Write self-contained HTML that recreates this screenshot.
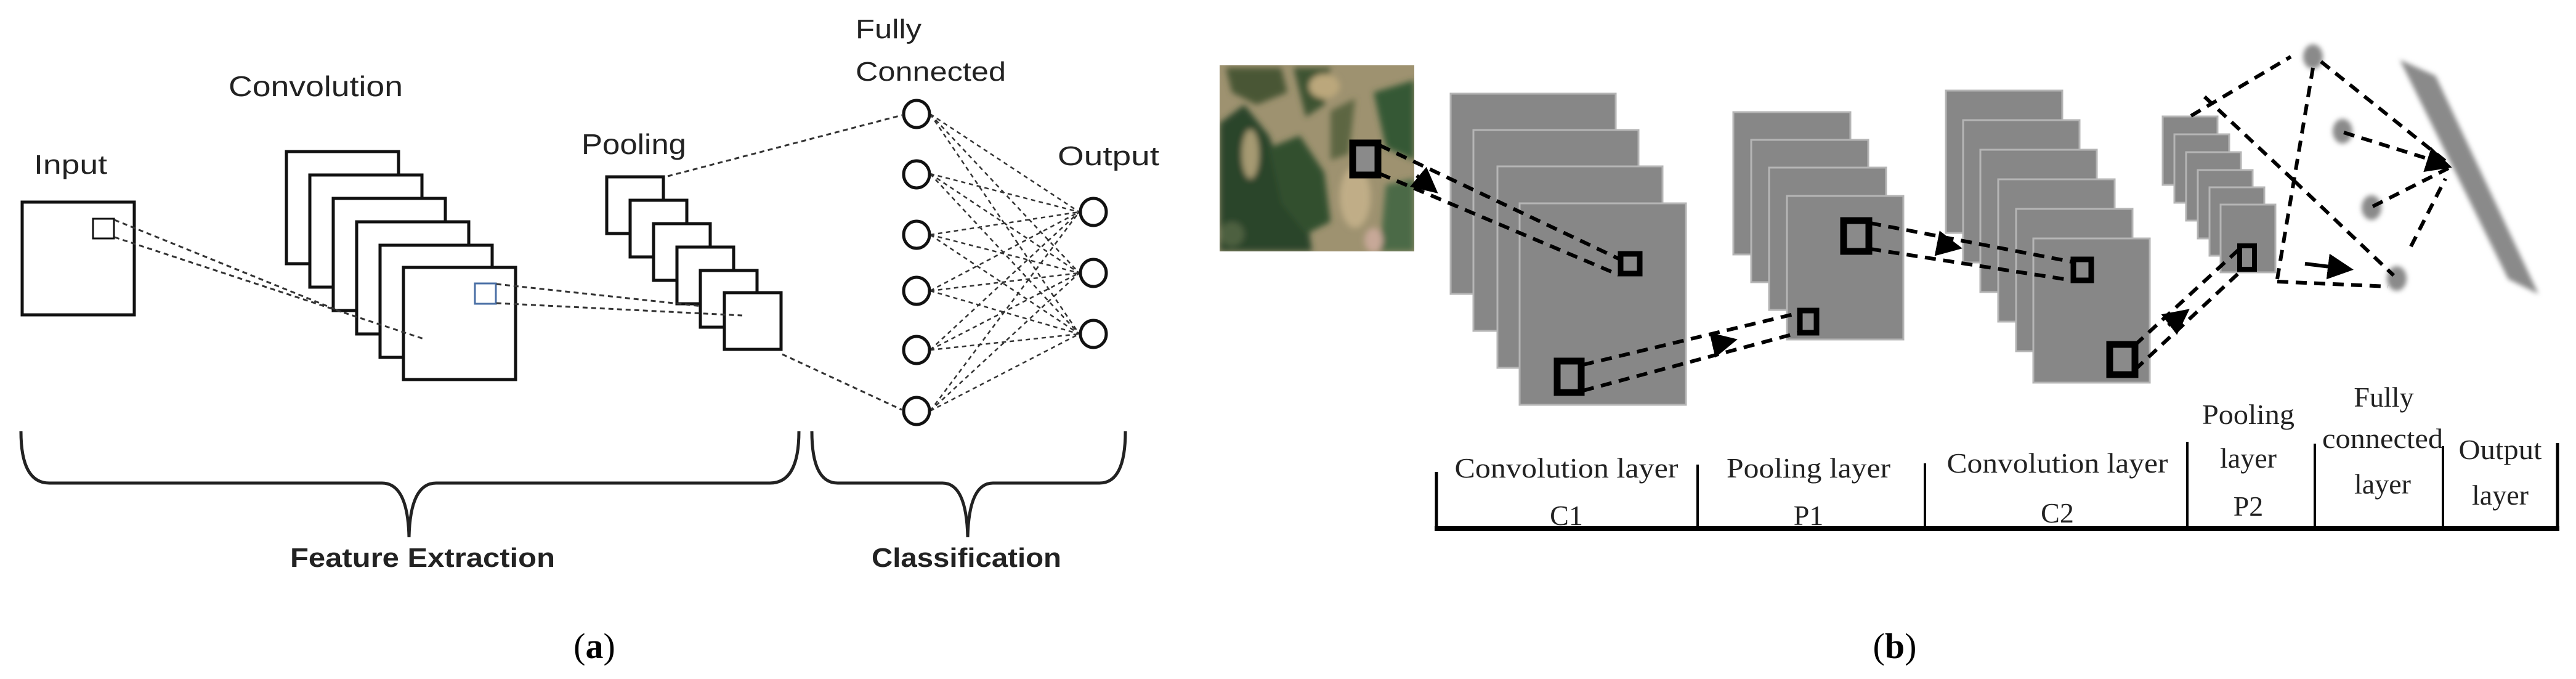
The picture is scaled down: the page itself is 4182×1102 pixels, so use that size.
<!DOCTYPE html>
<html><head><meta charset="utf-8"><style>
html,body{margin:0;padding:0;background:#fff;}
svg{display:block;}
</style></head><body>
<svg width="4182" height="1102" viewBox="0 0 4182 1102" xmlns="http://www.w3.org/2000/svg">
<defs>
<marker id="ah" markerWidth="7" markerHeight="7" refX="6" refY="3.5" orient="auto" markerUnits="strokeWidth"><path d="M0,0 L7,3.5 L0,7 z" fill="#000"/></marker>
<filter id="bl" x="-50%" y="-50%" width="200%" height="200%"><feGaussianBlur stdDeviation="4"/></filter>
<filter id="bl2" x="-20%" y="-20%" width="140%" height="140%"><feGaussianBlur stdDeviation="5"/></filter>
<clipPath id="sat"><rect x="1980" y="106" width="316" height="302"/></clipPath>
</defs>

<!-- ============ PANEL A ============ -->
<g font-family="Liberation Sans, sans-serif" fill="#222">
<text x="55" y="282" font-size="44" textLength="119" lengthAdjust="spacingAndGlyphs">Input</text>
<text x="371" y="156" font-size="46" textLength="283" lengthAdjust="spacingAndGlyphs">Convolution</text>
<text x="944" y="250" font-size="46" textLength="170" lengthAdjust="spacingAndGlyphs">Pooling</text>
<text x="1389" y="62" font-size="44" textLength="107" lengthAdjust="spacingAndGlyphs">Fully</text>
<text x="1389" y="131" font-size="44" textLength="244" lengthAdjust="spacingAndGlyphs">Connected</text>
<text x="1717" y="268" font-size="44" textLength="165" lengthAdjust="spacingAndGlyphs">Output</text>
<text x="471" y="920" font-size="44" font-weight="bold" textLength="430" lengthAdjust="spacingAndGlyphs">Feature Extraction</text>
<text x="1415" y="920" font-size="44" font-weight="bold" textLength="308" lengthAdjust="spacingAndGlyphs">Classification</text>
</g>
<text x="965" y="1068" font-family="Liberation Serif, serif" font-size="58" text-anchor="middle" fill="#000">(<tspan font-weight="bold">a</tspan>)</text>

<g fill="#fff" stroke="#111" stroke-width="5">
<rect x="36" y="328" width="182" height="183"/>
<rect x="151" y="355" width="34" height="32" stroke-width="3"/>
<rect x="465" y="246" width="182" height="182"/>
<rect x="503" y="284" width="182" height="182"/>
<rect x="541" y="322" width="182" height="182"/>
<rect x="579" y="360" width="182" height="182"/>
<rect x="617" y="398" width="182" height="182"/>
<rect x="655" y="434" width="182" height="182"/>
<rect x="985" y="287" width="92" height="92"/>
<rect x="1023" y="325" width="92" height="92"/>
<rect x="1061" y="363" width="92" height="92"/>
<rect x="1099" y="401" width="92" height="92"/>
<rect x="1137" y="439" width="92" height="92"/>
<rect x="1176" y="475" width="92" height="92"/>
</g>
<rect x="771" y="460" width="34" height="33" fill="none" stroke="#4a6fa5" stroke-width="3"/>

<g stroke="#333" stroke-width="3" stroke-dasharray="8,6" fill="none">
<line x1="186" y1="357" x2="554" y2="506"/>
<line x1="186" y1="385" x2="688" y2="550"/>
<line x1="806" y1="461" x2="1140" y2="497"/>
<line x1="806" y1="492" x2="1205" y2="512"/>
<line x1="1084" y1="286" x2="1464" y2="187"/>
<line x1="1270" y1="575" x2="1464" y2="665"/>
</g>
<g stroke="#333" stroke-width="2.5" stroke-dasharray="7,6" fill="none">
<path d="M1510,185 L1752,344 M1510,185 L1752,443 M1510,185 L1752,542
M1510,282 L1752,344 M1510,282 L1752,443 M1510,282 L1752,542
M1510,381 L1752,344 M1510,381 L1752,443 M1510,381 L1752,542
M1510,472 L1752,344 M1510,472 L1752,443 M1510,472 L1752,542
M1510,568 L1752,344 M1510,568 L1752,443 M1510,568 L1752,542
M1510,667 L1752,344 M1510,667 L1752,443 M1510,667 L1752,542"/>
</g>
<g fill="#fff" stroke="#111" stroke-width="5">
<ellipse cx="1488" cy="185" rx="21" ry="22"/>
<ellipse cx="1488" cy="283" rx="21" ry="22"/>
<ellipse cx="1488" cy="381" rx="21" ry="22"/>
<ellipse cx="1488" cy="472" rx="21" ry="22"/>
<ellipse cx="1488" cy="568" rx="21" ry="22"/>
<ellipse cx="1488" cy="667" rx="21" ry="22"/>
<ellipse cx="1775" cy="344" rx="21" ry="22"/>
<ellipse cx="1775" cy="443" rx="21" ry="22"/>
<ellipse cx="1775" cy="542" rx="21" ry="22"/>
</g>
<g fill="none" stroke="#222" stroke-width="5">
<path d="M34,700 Q34,784 80,784 L620,784 Q662,784 664,872 Q666,784 708,784 L1250,784 Q1297,784 1297,700"/>
<path d="M1318,700 Q1318,784 1360,784 L1530,784 Q1569,784 1571,872 Q1573,784 1612,784 L1785,784 Q1827,784 1827,700"/>
</g>

<!-- ============ PANEL B ============ -->
<g clip-path="url(#sat)">
<rect x="1980" y="106" width="316" height="302" fill="#9e9270"/>
<g filter="url(#bl2)">
<path d="M1980,200 L2020,170 L2060,220 L2090,300 L2120,340 L2130,408 L1980,408 Z" fill="#2c4429"/>
<path d="M2060,240 L2110,220 L2150,280 L2160,360 L2120,380 L2080,330 Z" fill="#32502f"/>
<path d="M1990,110 L2080,110 L2090,150 L2040,170 L2000,150 Z" fill="#4a5736"/>
<path d="M2100,110 L2160,110 L2150,170 L2120,190 Z" fill="#3e5232"/>
<path d="M2230,150 L2296,130 L2296,260 L2250,240 Z" fill="#365834"/>
<path d="M2160,180 L2200,160 L2190,250 L2160,260 Z" fill="#5d6642"/>
<path d="M2250,300 L2296,290 L2296,408 L2240,408 Z" fill="#4b6a46"/>
<ellipse cx="2200" cy="320" rx="25" ry="50" fill="#c0ad87"/>
<ellipse cx="2150" cy="140" rx="25" ry="20" fill="#bba77c"/>
<ellipse cx="2030" cy="250" rx="14" ry="40" fill="#a69a72"/>
<ellipse cx="2230" cy="390" rx="15" ry="20" fill="#c7a898"/>
<ellipse cx="2000" cy="380" rx="20" ry="20" fill="#4d6040"/>
</g>
</g>

<g fill="#878787" stroke="#b5b5b5" stroke-width="3">
<rect x="2355" y="152" width="268" height="325"/>
<rect x="2392" y="211" width="268" height="326"/>
<rect x="2431" y="270" width="268" height="327"/>
<rect x="2467" y="330" width="270" height="327"/>
<rect x="2814" y="182" width="190" height="231"/>
<rect x="2843" y="227" width="190" height="231"/>
<rect x="2872" y="272" width="190" height="231"/>
<rect x="2901" y="318" width="189" height="233"/>
<rect x="3159" y="147" width="189" height="231"/>
<rect x="3187" y="195" width="189" height="231"/>
<rect x="3215" y="243" width="189" height="231"/>
<rect x="3244" y="291" width="189" height="231"/>
<rect x="3273" y="339" width="189" height="231"/>
<rect x="3301" y="387" width="189" height="234"/>
<rect x="3511" y="189" width="89" height="111"/>
<rect x="3530" y="218" width="89" height="111"/>
<rect x="3549" y="247" width="89" height="111"/>
<rect x="3568" y="276" width="89" height="111"/>
<rect x="3587" y="304" width="89" height="111"/>
<rect x="3605" y="332" width="89" height="110"/>
</g>

<g fill="#8a8a8a" stroke="#000" stroke-width="11">
<rect x="2196" y="232" width="41" height="52"/>
<rect x="2631" y="412" width="31" height="32" stroke-width="9"/>
<rect x="2528" y="586" width="39" height="51"/>
<rect x="2922" y="504" width="27" height="36" stroke-width="9"/>
<rect x="2993" y="358" width="41" height="50"/>
<rect x="3366" y="421" width="29" height="34" stroke-width="9"/>
<rect x="3425" y="559" width="41" height="49"/>
<rect x="3636" y="399" width="24" height="38" stroke-width="8"/>
</g>

<g fill="#8a8a8a" filter="url(#bl)">
<ellipse cx="3755" cy="92" rx="16" ry="20"/>
<ellipse cx="3803" cy="213" rx="16" ry="20"/>
<ellipse cx="3850" cy="337" rx="16" ry="20"/>
<ellipse cx="3891" cy="452" rx="16" ry="20"/>
<polygon points="3896,97 3954,123 4121,477 4072,453"/>
</g>

<g stroke="#000" stroke-width="6" stroke-dasharray="18,12" fill="none">
<line x1="2240" y1="236" x2="2628" y2="420"/>
<line x1="2240" y1="282" x2="2628" y2="446"/>
<line x1="2570" y1="592" x2="2920" y2="508"/>
<line x1="2570" y1="634" x2="2920" y2="540"/>
<line x1="3036" y1="362" x2="3364" y2="425"/>
<line x1="3036" y1="404" x2="3364" y2="455"/>
<line x1="3466" y1="560" x2="3640" y2="400"/>
<line x1="3466" y1="600" x2="3640" y2="438"/>
<line x1="3557" y1="188" x2="3719" y2="92"/>
<line x1="3579" y1="157" x2="3724" y2="293"/>
<line x1="3724" y1="293" x2="3886" y2="447"/>
<line x1="3755" y1="110" x2="3697" y2="453"/>
<line x1="3697" y1="457" x2="3877" y2="465"/>
<line x1="3768" y1="100" x2="3978" y2="268"/>
<line x1="3805" y1="215" x2="3975" y2="268"/>
<line x1="3852" y1="335" x2="3975" y2="273"/>
<line x1="3914" y1="400" x2="3970" y2="290"/>
</g>
<g stroke="#000" stroke-width="6" fill="none" marker-end="url(#ah)">
<line x1="2300" y1="285" x2="2330" y2="310"/>
<line x1="2780" y1="560" x2="2815" y2="552"/>
<line x1="3150" y1="396" x2="3180" y2="402"/>
<line x1="3520" y1="528" x2="3550" y2="505"/>
<line x1="3742" y1="428" x2="3815" y2="437"/>
<line x1="3950" y1="262" x2="3975" y2="270"/>
</g>

<g stroke="#000" fill="none">
<line x1="2329" y1="858" x2="4155" y2="858" stroke-width="8"/>
<line x1="2332" y1="766" x2="2332" y2="858" stroke-width="5"/>
<line x1="2756" y1="754" x2="2756" y2="858" stroke-width="4"/>
<line x1="3125" y1="752" x2="3125" y2="858" stroke-width="4"/>
<line x1="3551" y1="717" x2="3551" y2="858" stroke-width="4"/>
<line x1="3758" y1="720" x2="3758" y2="858" stroke-width="4"/>
<line x1="3966" y1="724" x2="3966" y2="858" stroke-width="4"/>
<line x1="4152" y1="719" x2="4152" y2="858" stroke-width="5"/>
</g>
<g font-family="Liberation Serif, serif" font-size="46" fill="#222" text-anchor="middle">
<text x="2543" y="775" textLength="363" lengthAdjust="spacingAndGlyphs">Convolution layer</text>
<text x="2543" y="852">C1</text>
<text x="2936" y="775" textLength="266" lengthAdjust="spacingAndGlyphs">Pooling layer</text>
<text x="2936" y="852">P1</text>
<text x="3340" y="767" textLength="359" lengthAdjust="spacingAndGlyphs">Convolution layer</text>
<text x="3340" y="848">C2</text>
<text x="3650" y="688" textLength="150" lengthAdjust="spacingAndGlyphs">Pooling</text>
<text x="3650" y="759">layer</text>
<text x="3650" y="837">P2</text>
<text x="3870" y="660">Fully</text>
<text x="3868" y="727" textLength="196" lengthAdjust="spacingAndGlyphs">connected</text>
<text x="3868" y="801">layer</text>
<text x="4059" y="745" textLength="135" lengthAdjust="spacingAndGlyphs">Output</text>
<text x="4059" y="819">layer</text>
</g>
<text x="3076" y="1068" font-family="Liberation Serif, serif" font-size="58" text-anchor="middle" fill="#000">(<tspan font-weight="bold">b</tspan>)</text>
</svg>
</body></html>
